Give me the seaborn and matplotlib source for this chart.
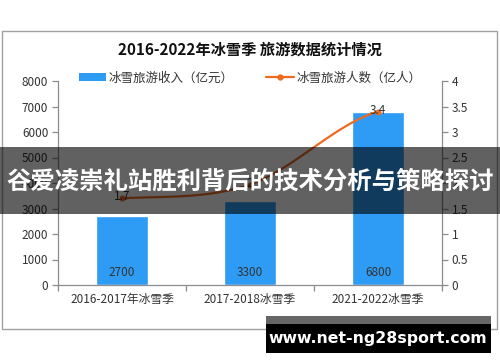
import numpy as np
import pandas as pd
import matplotlib
matplotlib.use("Agg")
import matplotlib.pyplot as plt
from matplotlib.patches import Rectangle
from matplotlib.lines import Line2D
from matplotlib.ticker import FixedLocator
import seaborn as sns

# ---- data ----
seasons = ["2016-2017年冰雪季", "2017-2018冰雪季", "2021-2022冰雪季"]
income = [2700, 3300, 6800]          # 冰雪旅游收入（亿元）
visitors = [1.7, 1.97, 3.4]          # 冰雪旅游人数（亿人）
visitor_labels = ["1.7", "2", "3.4"]
left_ticks = [0, 1000, 2000, 3000, 4000, 5000, 6000, 7000, 8000]
right_ticks = [0, 0.5, 1, 1.5, 2, 2.5, 3, 3.5, 4]

title = "2016-2022年冰雪季 旅游数据统计情况"
legend_income = "冰雪旅游收入（亿元）"
legend_visitors = "冰雪旅游人数（亿人）"
banner = "谷爱凌崇礼站胜利背后的技术分析与策略探讨"
site = "www.net-ng28sport.com"

sns.set_theme(style="white")
plt.rcParams["font.family"] = ["Noto Sans CJK SC", "DejaVu Sans"]

BAR = "#2E9BF5"
LINE = "#EE6A1F"
AXC = "#8C8C8C"
TXT = "#333333"

W, H = 500, 362
fig = plt.figure(figsize=(W / 100, H / 100), dpi=100)
fig.patch.set_facecolor("white")

def fx(px):
    return px / W

def fy(py):
    return 1 - py / H

ax = fig.add_axes([fx(58), fy(285), fx(442) - fx(58), fy(81) - fy(285)])

df = pd.DataFrame({"season": seasons, "income": income})
sns.barplot(data=df, x="season", y="income", color=BAR, width=0.4,
            saturation=1, ax=ax, zorder=2)
ax.set_xlim(-0.5, 2.5)
ax.set_ylim(0, 8000)
ax.set_xlabel("")
ax.set_ylabel("")
ax.set_facecolor("none")

for s in ["top", "right"]:
    ax.spines[s].set_visible(False)
for s in ["left", "bottom"]:
    ax.spines[s].set_color(AXC)
    ax.spines[s].set_linewidth(0.9)

ax.yaxis.set_major_locator(FixedLocator(left_ticks))
ax.set_yticklabels([str(t) for t in left_ticks])
ax.tick_params(axis="y", direction="out", length=4, width=0.9, color=AXC,
               labelsize=8.5, labelcolor=TXT, pad=3, left=True)
ax.tick_params(axis="x", which="major", length=0, labelsize=8.5,
               labelcolor=TXT, pad=6)
ax.xaxis.set_minor_locator(FixedLocator([-0.5, 0.5, 1.5, 2.5]))
ax.tick_params(axis="x", which="minor", direction="out", length=4,
               width=0.9, color=AXC, bottom=True)

for i, v in enumerate(income):
    ax.annotate(str(v), (i, 0), xytext=(0, 9), textcoords="offset points",
                ha="center", va="center", fontsize=8.5, color=TXT, zorder=3)

# ---- visitors on the secondary axis ----
ax2 = ax.twinx()
ax2.set_ylim(0, 4)
ax2.set_xlim(-0.5, 2.5)
for s in ["top", "left", "bottom"]:
    ax2.spines[s].set_visible(False)
ax2.spines["right"].set_color(AXC)
ax2.spines["right"].set_linewidth(0.9)
ax2.yaxis.set_major_locator(FixedLocator(right_ticks))
ax2.set_yticklabels([f"{t:g}" for t in right_ticks])
ax2.tick_params(axis="y", direction="out", length=4, width=0.9, color=AXC,
                labelsize=8.5, labelcolor=TXT, pad=3, right=True)
ax2.grid(False)

# smooth curve through the yearly points (Catmull-Rom / Hermite)
xs = np.arange(len(visitors), dtype=float)
ys = np.asarray(visitors, dtype=float)
pad_y = np.concatenate([[ys[0]], ys, [ys[-1]]])
tang = (pad_y[2:] - pad_y[:-2]) / 2.0
cx, cy = [], []
for k in range(len(ys) - 1):
    t = np.linspace(0, 1, 40)
    h00 = 2 * t**3 - 3 * t**2 + 1
    h10 = t**3 - 2 * t**2 + t
    h01 = -2 * t**3 + 3 * t**2
    h11 = t**3 - t**2
    cy.extend(h00 * ys[k] + h10 * tang[k] + h01 * ys[k + 1] + h11 * tang[k + 1])
    cx.extend(xs[k] + t)
sns.lineplot(x=cx, y=cy, ax=ax2, color=LINE, linewidth=1.6, sort=False,
             zorder=4)
sns.scatterplot(x=xs, y=ys, ax=ax2, color=LINE, s=14, edgecolor=LINE,
                linewidth=0.5, zorder=5)
for i, (v, lab) in enumerate(zip(visitors, visitor_labels)):
    ax2.annotate(lab, (i, v), xytext=(0, 1), textcoords="offset points",
                 ha="center", va="center", fontsize=8.5, color=TXT, zorder=6)

# ---- title and legend ----
fig.text(0.5, fy(50), title, ha="center", va="center", fontsize=11,
         fontweight="bold", color="#111111")
handles = [
    Rectangle((0, 0), 1, 1, facecolor=BAR, edgecolor="none"),
    Line2D([0], [0], color=LINE, lw=1.6, marker="o", markersize=3.5),
]
fig.legend(handles, [legend_income, legend_visitors], loc="center",
           bbox_to_anchor=(fx(250), fy(78)), ncol=2, frameon=False,
           fontsize=9, handlelength=2.2, handleheight=0.6,
           handletextpad=0.2, columnspacing=2.6, labelcolor=TXT)

# ---- outer frame ----
fig.patches.append(Rectangle((fx(2), fy(329)), fx(497) - fx(2),
                             fy(31) - fy(329), transform=fig.transFigure,
                             facecolor="none", edgecolor="#A0A0A0",
                             linewidth=1.0, zorder=1))

# ---- headline band across the chart ----
fig.patches.append(Rectangle((0, fy(214)), 1, fy(147) - fy(214),
                             transform=fig.transFigure, facecolor="#000000",
                             alpha=0.62, edgecolor="none", zorder=20))
fig.text(0.5, fy(182), banner, ha="center", va="center", fontsize=17.6,
         fontweight="bold", color="white", zorder=21)

# ---- site badge ----
fig.patches.append(Rectangle((fx(266), fy(324)), fx(491) - fx(266),
                             fy(316) - fy(324), transform=fig.transFigure,
                             facecolor="#666666", edgecolor="none", zorder=20))
fig.patches.append(Rectangle((fx(266), fy(353)), fx(491) - fx(266),
                             fy(324) - fy(353), transform=fig.transFigure,
                             facecolor="#000000", edgecolor="none", zorder=20))
fig.text(fx(378), fy(338), site, ha="center", va="center", fontsize=11.3,
         fontweight="bold", color="white", family=["DejaVu Sans"], zorder=21)

fig.savefig("out.png", dpi=100, facecolor="white")
